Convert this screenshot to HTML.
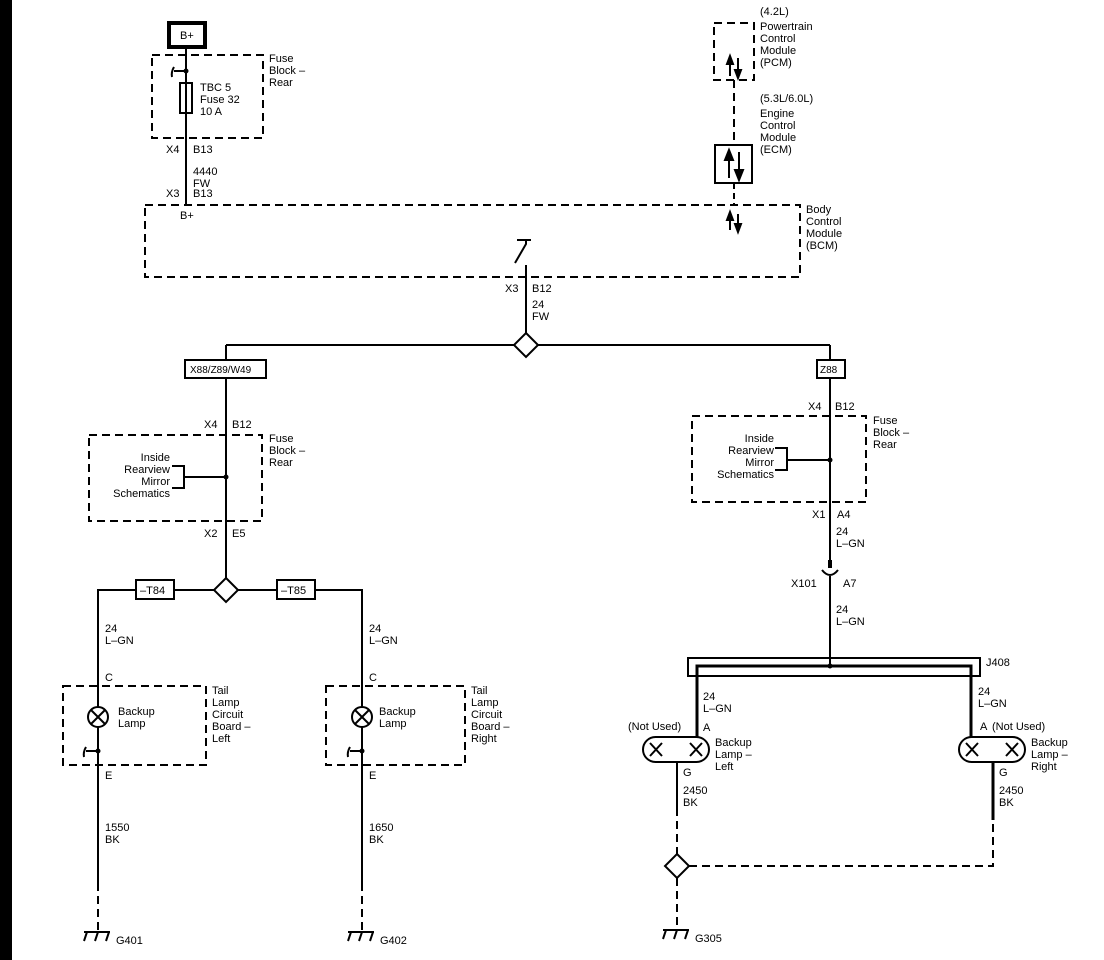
<!DOCTYPE html>
<html><head><meta charset="utf-8"><style>
html,body{margin:0;padding:0;background:#fff;}
svg{display:block;}
text{font-family:"Liberation Sans",Arial,sans-serif;font-size:11px;fill:#000;}
</style></head><body>
<svg width="1104" height="960" viewBox="0 0 1104 960" xmlns="http://www.w3.org/2000/svg">
<rect x="0" y="0" width="12" height="960" fill="#000"/>
<g fill="none" stroke="#000" stroke-width="2">
<!-- B+ box -->
<rect x="169" y="23" width="36" height="24" stroke-width="4"/>
<!-- fuse block top -->
<rect x="152" y="55" width="111" height="83" stroke-dasharray="8,5"/>
<line x1="186" y1="47" x2="186" y2="205"/>
<rect x="180" y="83" width="12" height="30"/>
<path d="M186 71 H174 M174 67 Q171 72 172 77"/>
<!-- BCM -->
<rect x="145" y="205" width="655" height="72" stroke-dasharray="8,5"/>
<path d="M517 240 H531 M526 240 V244 L515 263"/>
<line x1="526" y1="265" x2="526" y2="333"/>
<path d="M526 333 L538 345 L526 357 L514 345 Z"/>
<line x1="226" y1="345" x2="514" y2="345"/>
<line x1="538" y1="345" x2="830" y2="345"/>
<!-- PCM/ECM -->
<rect x="714" y="23" width="40" height="57" stroke-dasharray="8,5"/>
<line x1="734" y1="80" x2="734" y2="145" stroke-dasharray="8,5"/>
<rect x="715" y="145" width="37" height="38"/>
<path d="M734 183 V205" stroke-dasharray="6,4"/>
<!-- left branch -->
<line x1="226" y1="345" x2="226" y2="578"/>
<rect x="185" y="360" width="81" height="18" fill="#fff"/>
<rect x="89" y="435" width="173" height="86" stroke-dasharray="8,5"/>
<path d="M172 466 H184 V488 H172 M184 477 H226"/>
<path d="M226 578 L238 590 L226 602 L214 590 Z"/>
<path d="M214 590 H98 V883 M238 590 H362 V883"/>
<rect x="136" y="580" width="38" height="19" fill="#fff"/>
<rect x="277" y="580" width="38" height="19" fill="#fff"/>
<rect x="63" y="686" width="143" height="79" stroke-dasharray="8,5"/>
<rect x="326" y="686" width="139" height="79" stroke-dasharray="8,5"/>
<line x1="98" y1="883" x2="98" y2="930" stroke-dasharray="8,5"/>
<line x1="362" y1="883" x2="362" y2="930" stroke-dasharray="8,5"/>
<path d="M98 751 H86 M86 747 Q83 752 84 757"/>
<path d="M362 751 H350 M350 747 Q347 752 348 757"/>
<!-- right branch -->
<line x1="830" y1="345" x2="830" y2="565"/>
<rect x="817" y="360" width="28" height="18" fill="#fff"/>
<rect x="692" y="416" width="174" height="86" stroke-dasharray="8,5"/>
<path d="M775 448 H787 V470 H775 M787 460 H830"/>
<line x1="830" y1="560" x2="830" y2="568" stroke-width="4"/>
<path d="M822 570 Q830 580 838 570"/>
<line x1="830" y1="576" x2="830" y2="666"/>
<rect x="688" y="658" width="292" height="18"/>
<path d="M697 737 V666 H971 V737" stroke-width="3"/>
<rect x="643" y="737" width="66" height="25" rx="12.5"/>
<rect x="959" y="737" width="66" height="25" rx="12.5"/>
<line x1="677" y1="762" x2="677" y2="808"/>
<line x1="993" y1="762" x2="993" y2="820" stroke-width="3"/>
<path d="M677 808 V854 M689 866 H993 V820 M677 878 V930" stroke-dasharray="8,5"/>
<path d="M677 854 L689 866 L677 878 L665 866 Z"/>
</g>
<!-- dots -->
<g fill="#000">
<circle cx="186" cy="71" r="2.5"/>
<circle cx="226" cy="477" r="2.5"/>
<circle cx="830" cy="460" r="2.5"/>
<circle cx="830" cy="666" r="2.5"/>
<circle cx="98" cy="751" r="2.5"/>
<circle cx="362" cy="751" r="2.5"/>
</g>
<!-- lamps -->
<g fill="#fff" stroke="#000" stroke-width="2">
<circle cx="98" cy="717" r="10"/>
<circle cx="362" cy="717" r="10"/>
</g>
<g stroke="#000" stroke-width="2">
<path d="M91 710 L105 724 M105 710 L91 724"/>
<path d="M355 710 L369 724 M369 710 L355 724"/>
<path d="M650 743 L662 756 M662 743 L650 756 M690 743 L702 756 M702 743 L690 756"/>
<path d="M966 743 L978 756 M978 743 L966 756 M1006 743 L1018 756 M1018 743 L1006 756"/>
<!-- grounds -->
<path d="M84 932 H110 M87 932 L84 941 M98 932 L95 941 M109 932 L106 941"/>
<path d="M348 932 H374 M351 932 L348 941 M362 932 L359 941 M373 932 L370 941"/>
<path d="M663 930 H689 M666 930 L663 939 M677 930 L674 939 M688 930 L685 939"/>
</g>
<!-- arrows -->
<g stroke="#000" stroke-width="2" fill="#000">
<line x1="730" y1="76" x2="730" y2="62"/><path d="M727 64 L730 56 L733 64 Z"/>
<line x1="738" y1="58" x2="738" y2="72"/><path d="M735 70 L738 78 L741 70 Z"/>
<line x1="729" y1="178" x2="729" y2="158"/><path d="M725 160 L729 150 L733 160 Z"/>
<line x1="739" y1="152" x2="739" y2="172"/><path d="M735 170 L739 180 L743 170 Z"/>
<line x1="730" y1="230" x2="730" y2="218"/><path d="M727 220 L730 212 L733 220 Z"/>
<line x1="738" y1="214" x2="738" y2="226"/><path d="M735 224 L738 232 L741 224 Z"/>
</g>
<!-- text -->
<text x="180" y="39">B+</text>
<text x="200" y="91">TBC 5</text><text x="200" y="103">Fuse 32</text><text x="200" y="115">10 A</text>
<text x="269" y="62">Fuse</text><text x="269" y="74">Block –</text><text x="269" y="86">Rear</text>
<text x="166" y="153">X4</text><text x="193" y="153">B13</text>
<text x="193" y="175">4440</text><text x="193" y="187">FW</text>
<text x="166" y="197">X3</text><text x="193" y="197">B13</text>
<text x="180" y="219">B+</text>
<text x="760" y="15">(4.2L)</text><text x="760" y="30">Powertrain</text><text x="760" y="42">Control</text><text x="760" y="54">Module</text><text x="760" y="66">(PCM)</text>
<text x="760" y="102">(5.3L/6.0L)</text><text x="760" y="117">Engine</text><text x="760" y="129">Control</text><text x="760" y="141">Module</text><text x="760" y="153">(ECM)</text>
<text x="806" y="213">Body</text><text x="806" y="225">Control</text><text x="806" y="237">Module</text><text x="806" y="249">(BCM)</text>
<text x="505" y="292">X3</text><text x="532" y="292">B12</text><text x="532" y="308">24</text><text x="532" y="320">FW</text>
<text x="190" y="373" style="font-size:10px">X88/Z89/W49</text>
<text x="820" y="373" style="font-size:10px">Z88</text>
<text x="204" y="428">X4</text><text x="232" y="428">B12</text>
<text x="269" y="442">Fuse</text><text x="269" y="454">Block –</text><text x="269" y="466">Rear</text>
<g text-anchor="end"><text x="170" y="461">Inside</text><text x="170" y="473">Rearview</text><text x="170" y="485">Mirror</text><text x="170" y="497">Schematics</text></g>
<text x="204" y="537">X2</text><text x="232" y="537">E5</text>
<text x="140" y="594">–T84</text><text x="281" y="594">–T85</text>
<text x="105" y="632">24</text><text x="105" y="644">L–GN</text>
<text x="369" y="632">24</text><text x="369" y="644">L–GN</text>
<text x="105" y="681">C</text><text x="369" y="681">C</text>
<text x="118" y="715">Backup</text><text x="118" y="727">Lamp</text>
<text x="379" y="715">Backup</text><text x="379" y="727">Lamp</text>
<text x="212" y="694">Tail</text><text x="212" y="706">Lamp</text><text x="212" y="718">Circuit</text><text x="212" y="730">Board –</text><text x="212" y="742">Left</text>
<text x="471" y="694">Tail</text><text x="471" y="706">Lamp</text><text x="471" y="718">Circuit</text><text x="471" y="730">Board –</text><text x="471" y="742">Right</text>
<text x="105" y="779">E</text><text x="369" y="779">E</text>
<text x="105" y="831">1550</text><text x="105" y="843">BK</text>
<text x="369" y="831">1650</text><text x="369" y="843">BK</text>
<text x="116" y="944">G401</text><text x="380" y="944">G402</text><text x="695" y="942">G305</text>
<text x="808" y="410">X4</text><text x="835" y="410">B12</text>
<text x="873" y="424">Fuse</text><text x="873" y="436">Block –</text><text x="873" y="448">Rear</text>
<g text-anchor="end"><text x="774" y="442">Inside</text><text x="774" y="454">Rearview</text><text x="774" y="466">Mirror</text><text x="774" y="478">Schematics</text></g>
<text x="812" y="518">X1</text><text x="837" y="518">A4</text>
<text x="836" y="535">24</text><text x="836" y="547">L–GN</text>
<text x="791" y="587">X101</text><text x="843" y="587">A7</text>
<text x="836" y="613">24</text><text x="836" y="625">L–GN</text>
<text x="986" y="666">J408</text>
<text x="703" y="700">24</text><text x="703" y="712">L–GN</text>
<text x="978" y="695">24</text><text x="978" y="707">L–GN</text>
<text x="628" y="730">(Not Used)</text><text x="703" y="731">A</text>
<text x="980" y="730">A</text><text x="992" y="730">(Not Used)</text>
<text x="715" y="746">Backup</text><text x="715" y="758">Lamp –</text><text x="715" y="770">Left</text>
<text x="1031" y="746">Backup</text><text x="1031" y="758">Lamp –</text><text x="1031" y="770">Right</text>
<text x="683" y="776">G</text><text x="999" y="776">G</text>
<text x="683" y="794">2450</text><text x="683" y="806">BK</text>
<text x="999" y="794">2450</text><text x="999" y="806">BK</text>
</svg>
</body></html>
